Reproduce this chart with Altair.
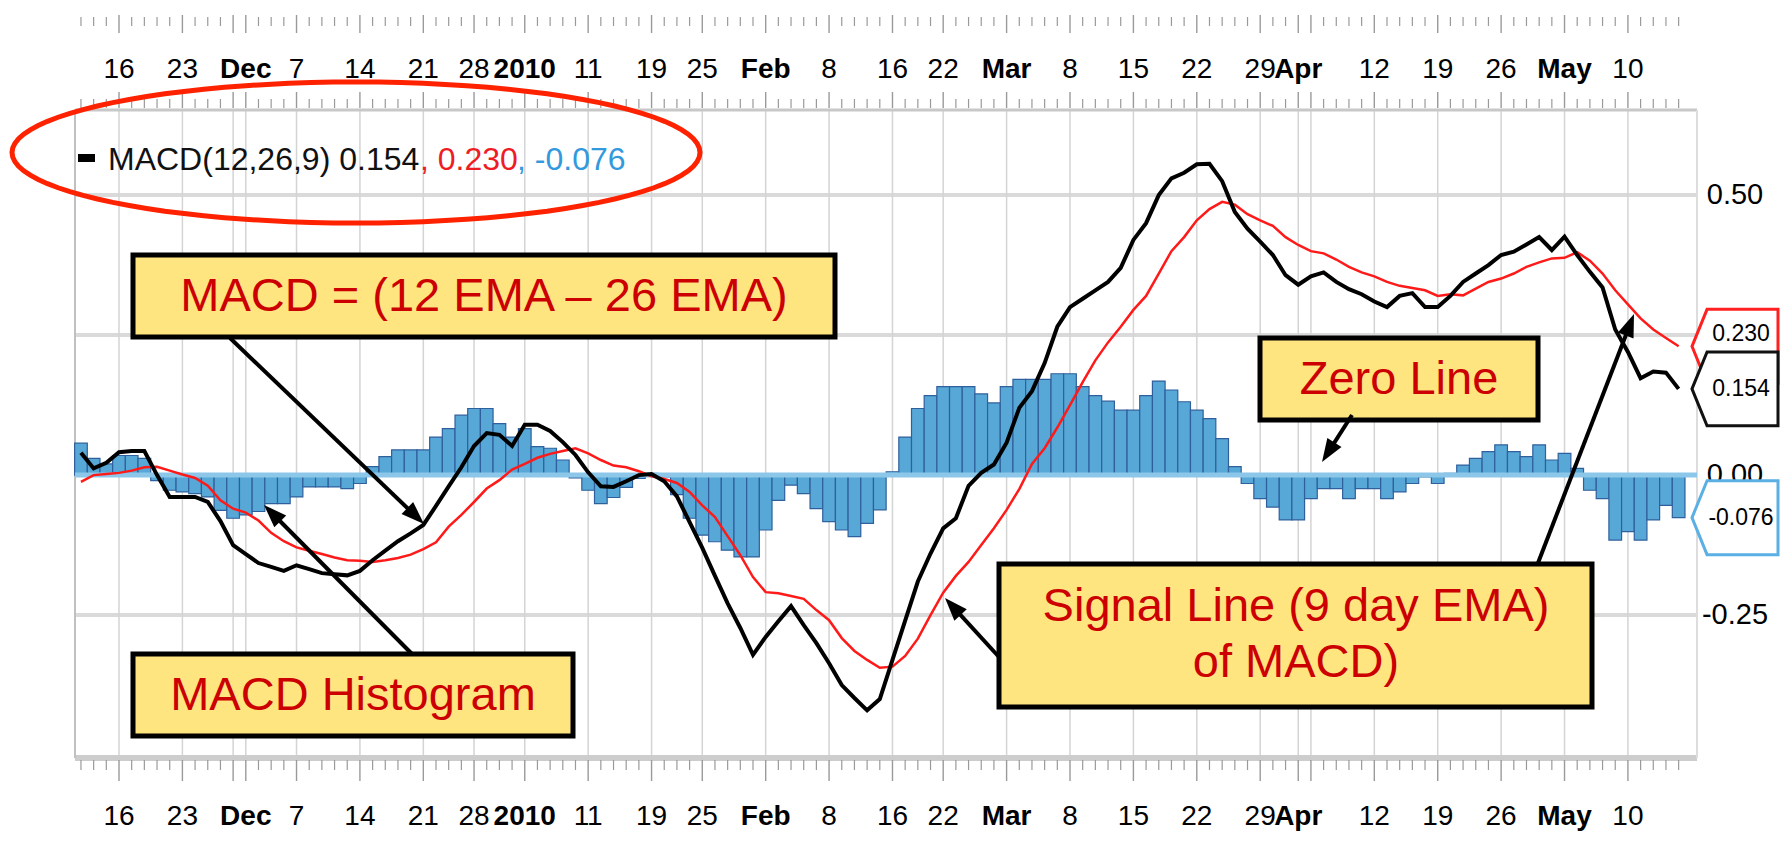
import math
import altair as alt
import pandas as pd

# ---------------- data ----------------
HOLIDAYS = ["2009-11-26", "2009-12-25", "2010-01-01", "2010-01-18", "2010-02-15", "2010-04-02"]
FIRST_DAY = "2009-11-11"
LAST_DAY = "2010-05-14"

macd = [0.040, 0.012, 0.022, 0.041, 0.043, 0.043, 0.000, -0.039, -0.039, -0.039,
        -0.048, -0.082, -0.125, -0.141, -0.157, -0.164, -0.171, -0.161, -0.168, -0.175,
        -0.177, -0.179, -0.171, -0.152, -0.135, -0.118, -0.104, -0.089, -0.055, -0.020,
        0.014, 0.052, 0.075, 0.072, 0.052, 0.090, 0.090, 0.079, 0.059, 0.036,
        0.005, -0.020, -0.021, -0.011, 0.000, 0.002, -0.011, -0.038, -0.084, -0.130,
        -0.180, -0.229, -0.273, -0.321, -0.289, -0.261, -0.234, -0.268, -0.300, -0.336,
        -0.375, -0.398, -0.420, -0.400, -0.330, -0.260, -0.190, -0.140, -0.095, -0.077,
        -0.019, 0.004, 0.019, 0.058, 0.120, 0.150, 0.200, 0.265, 0.300, 0.315,
        0.330, 0.345, 0.370, 0.420, 0.450, 0.500, 0.530, 0.540, 0.555, 0.556,
        0.525, 0.470, 0.440, 0.417, 0.393, 0.357, 0.340, 0.355, 0.362, 0.345,
        0.332, 0.323, 0.310, 0.300, 0.320, 0.325, 0.300, 0.300, 0.320, 0.345,
        0.360, 0.375, 0.393, 0.399, 0.412, 0.425, 0.402, 0.426, 0.393, 0.363,
        0.335, 0.260, 0.220, 0.173, 0.185, 0.183, 0.154]

signal = [-0.012, 0.000, 0.002, 0.004, 0.008, 0.014, 0.015, 0.008, 0.001, -0.005,
          -0.019, -0.045, -0.060, -0.067, -0.081, -0.103, -0.118, -0.129, -0.135, -0.141,
          -0.147, -0.152, -0.153, -0.155, -0.152, -0.148, -0.142, -0.132, -0.120, -0.092,
          -0.071, -0.048, -0.024, -0.009, 0.010, 0.020, 0.031, 0.038, 0.043, 0.048,
          0.039, 0.027, 0.017, 0.014, 0.007, -0.002, -0.007, -0.014, -0.030, -0.054,
          -0.075, -0.109, -0.143, -0.182, -0.209, -0.211, -0.216, -0.221, -0.241, -0.259,
          -0.291, -0.314, -0.330, -0.344, -0.342, -0.323, -0.292, -0.250, -0.210, -0.180,
          -0.155, -0.125, -0.095, -0.062, -0.025, 0.020, 0.048, 0.085, 0.125, 0.166,
          0.205, 0.237, 0.265, 0.295, 0.320, 0.360, 0.400, 0.425, 0.455, 0.475,
          0.488, 0.483, 0.466, 0.455, 0.445, 0.425, 0.411, 0.400, 0.396, 0.385,
          0.372, 0.362, 0.355, 0.345, 0.338, 0.334, 0.330, 0.320, 0.323, 0.321,
          0.333, 0.345, 0.351, 0.360, 0.372, 0.380, 0.387, 0.388, 0.398, 0.383,
          0.360, 0.330, 0.305, 0.280, 0.260, 0.245, 0.230]

hist = [0.057, 0.030, 0.020, 0.035, 0.035, 0.030, -0.010, -0.027, -0.030, -0.033,
        -0.039, -0.063, -0.077, -0.071, -0.065, -0.051, -0.051, -0.039, -0.021, -0.021,
        -0.021, -0.024, -0.015, 0.015, 0.033, 0.045, 0.045, 0.045, 0.068, 0.083,
        0.107, 0.119, 0.119, 0.092, 0.068, 0.083, 0.051, 0.048, 0.027, -0.005,
        -0.027, -0.051, -0.040, -0.022, -0.006, 0.003, -0.003, -0.035, -0.077, -0.107,
        -0.119, -0.134, -0.146, -0.146, -0.098, -0.045, -0.018, -0.033, -0.060, -0.083,
        -0.098, -0.110, -0.086, -0.062, 0.006, 0.068, 0.119, 0.142, 0.158, 0.158,
        0.158, 0.145, 0.129, 0.158, 0.171, 0.171, 0.171, 0.181, 0.181, 0.158,
        0.142, 0.132, 0.116, 0.116, 0.142, 0.168, 0.152, 0.131, 0.116, 0.101,
        0.065, 0.015, -0.015, -0.042, -0.057, -0.080, -0.080, -0.042, -0.024, -0.024,
        -0.042, -0.024, -0.024, -0.042, -0.030, -0.015, -0.003, -0.015, 0.003, 0.018,
        0.030, 0.042, 0.054, 0.042, 0.033, 0.054, 0.027, 0.039, 0.012, -0.027,
        -0.042, -0.116, -0.101, -0.116, -0.080, -0.054, -0.076]

tick_dates = ["2009-11-16", "2009-11-23", "2009-12-01", "2009-12-07", "2009-12-14",
              "2009-12-21", "2009-12-28", "2010-01-04", "2010-01-11", "2010-01-19",
              "2010-01-25", "2010-02-01", "2010-02-08", "2010-02-16", "2010-02-22",
              "2010-03-01", "2010-03-08", "2010-03-15", "2010-03-22", "2010-03-29",
              "2010-04-01", "2010-04-12", "2010-04-19", "2010-04-26", "2010-05-03",
              "2010-05-10"]
tick_labels = ["16", "23", "Dec", "7", "14", "21", "28", "2010", "11", "19", "25", "Feb",
               "8", "16", "22", "Mar", "8", "15", "22", "29", "Apr", "12", "19", "26",
               "May", "10"]
bold_labels = ["Dec", "2010", "Feb", "Mar", "Apr", "May"]
extra_grid_dates = ["2009-11-30", "2010-04-05"]
y_grid = [0.5, 0.25, -0.25]
# the 0.25 label is hidden behind the last-value boxes in the reference
y_label_values = [0.5, 0.0, -0.25]
y_label_texts = ["0.50", "0.00", "-0.25"]

# ---------------- geometry ----------------
X0, Y0 = 75, 110          # page position of the plot area's top-left corner
W, H = 1622, 648
PXD = 12.68               # pixels per trading day
PXV = 560.0               # pixels per unit of MACD
P_LEFT = -0.47
P_RIGHT = P_LEFT + W / PXD
V_TOP = 0.652
V_BOT = V_TOP - H / PXV


def dp(xpage):
    return P_LEFT + (xpage - X0) / PXD


def dv(ypage):
    return V_TOP - (ypage - Y0) / PXV


xs = alt.Scale(domain=[P_LEFT, P_RIGHT], nice=False, zero=False)
ys = alt.Scale(domain=[V_BOT, V_TOP], nice=False, zero=False)


def X(f):
    return alt.X(f"{f}:Q", scale=xs, axis=None)


def Y(f):
    return alt.Y(f"{f}:Q", scale=ys, axis=None)


AXIS_FONT = "Liberation Sans, Arial, sans-serif"
BOX_FONT = "Liberation Sans, Arial, sans-serif"

# ---------------- tables ----------------
days = [d.strftime("%Y-%m-%d") for d in pd.bdate_range(FIRST_DAY, LAST_DAY)
        if d.strftime("%Y-%m-%d") not in HOLIDAYS]
n = min(len(days), len(macd))
pos = {d: i for i, d in enumerate(days)}
df = pd.DataFrame({
    "date": days[:n], "p": list(range(n)),
    "macd": macd[:n], "signal": signal[:n], "hist": hist[:n],
})
df["p0"] = df["p"] - 0.5
df["p1"] = df["p"] + 0.5
df["zero"] = 0.0

tdf = pd.DataFrame({"p": [pos[d] for d in tick_dates], "label": tick_labels})
tdf["bold"] = tdf["label"].isin(bold_labels)
grid_df = pd.DataFrame({"p": [pos[d] for d in tick_dates + extra_grid_dates]})
major_set = set(grid_df["p"])
all_days = pd.DataFrame({"p": list(range(n))})
minor_df = all_days[~all_days["p"].isin(major_set)]
major_df = all_days[all_days["p"].isin(major_set)]
one = pd.DataFrame({"k": [0]})

layers = []

# horizontal grid
layers.append(alt.Chart(pd.DataFrame({"v": y_grid})).mark_rule(color="#dadada", strokeWidth=4)
              .encode(y=Y("v"), x=alt.value(0), x2=alt.value(W)))
# vertical grid
layers.append(alt.Chart(grid_df).mark_rule(color="#d4d4d4", strokeWidth=1.5)
              .encode(x=X("p"), y=alt.value(0), y2=alt.value(H)))
# borders
layers.append(alt.Chart(one).mark_rule(color="#c8c8c8", strokeWidth=3)
              .encode(x=alt.value(0), x2=alt.value(W), y=alt.value(0)))
layers.append(alt.Chart(one).mark_rule(color="#cdcdcd", strokeWidth=6)
              .encode(x=alt.value(0), x2=alt.value(W), y=alt.value(H)))
layers.append(alt.Chart(one).mark_rule(color="#c0c0c0", strokeWidth=2)
              .encode(x=alt.value(0), y=alt.value(0), y2=alt.value(H)))
layers.append(alt.Chart(one).mark_rule(color="#dddddd", strokeWidth=2)
              .encode(x=alt.value(W), y=alt.value(0), y2=alt.value(H)))

# histogram
layers.append(alt.Chart(df).mark_bar(color="#57a8d6", stroke="#2f5f9c", strokeWidth=1.2)
              .encode(x=X("p0"), x2=alt.X2("p1"), y=Y("hist"), y2=alt.Y2("zero")))
# zero line band
layers.append(alt.Chart(pd.DataFrame({"v": [0.0]})).mark_rule(color="#8cc7ea", strokeWidth=5)
              .encode(y=Y("v"), x=alt.value(0), x2=alt.value(W)))
# signal & macd lines
layers.append(alt.Chart(df).mark_line(color="#ff1a1a", strokeWidth=2.5)
              .encode(x=X("p"), y=Y("signal")))
layers.append(alt.Chart(df).mark_line(color="#000000", strokeWidth=4)
              .encode(x=X("p"), y=Y("macd")))


# day ticks on the top and bottom axes
def tick_rows(data, rows, width):
    out = []
    for (ya, yb) in rows:
        out.append(alt.Chart(data).mark_rule(color="#9a9a9a", strokeWidth=width)
                   .encode(x=X("p"), y=alt.value(ya - Y0), y2=alt.value(yb - Y0)))
    return out


layers += tick_rows(minor_df, [(17, 26), (99, 108), (760, 770)], 1.2)
layers += tick_rows(major_df, [(15, 33), (92, 108), (760, 781)], 1.4)

# axis labels (top and bottom)
for ypage in (70, 817):
    for is_bold in (False, True):
        sub = tdf[tdf["bold"] == is_bold]
        layers.append(alt.Chart(sub).mark_text(font=AXIS_FONT, fontSize=28,
                                               fontWeight="bold" if is_bold else "normal",
                                               color="#000000", align="center", baseline="middle")
                      .encode(x=X("p"), y=alt.value(ypage - Y0), text="label:N"))

# right value-axis labels
layers.append(alt.Chart(pd.DataFrame({"v": y_label_values, "label": y_label_texts}))
              .mark_text(font=AXIS_FONT, fontSize=29, color="#000000", align="center", baseline="middle")
              .encode(x=alt.value(1735 - X0), y=Y("v"), text="label:N"))

# last-value boxes at the right (text offset keeps it in the visible part of the box)
BOX_PATH = "M -1 0 L -0.65 -0.86 L 1 -0.86 L 1 0.86 L -0.65 0.86 Z"
last_boxes = [(signal[-1], "#ff2020", -12), (macd[-1], "#111111", 0), (hist[-1], "#5ab0e4", 0)]
for val, col, dy in last_boxes:
    bd = pd.DataFrame({"v": [val], "label": [f"{val:.3f}"]})
    layers.append(alt.Chart(bd).mark_point(shape=BOX_PATH, size=86 ** 2, filled=True, fill="white",
                                           stroke=col, strokeWidth=3, opacity=1)
                  .encode(x=alt.value(1735 - X0), y=Y("v")))
    layers.append(alt.Chart(bd).mark_text(font=AXIS_FONT, fontSize=23, color="#000000",
                                          align="center", baseline="middle", dy=dy)
                  .encode(x=alt.value(1741 - X0), y=Y("v"), text="label:N"))

# legend line
layers.append(alt.Chart(one).mark_rule(color="#000000", strokeWidth=8)
              .encode(x=alt.value(78 - X0), x2=alt.value(95 - X0), y=alt.value(158 - Y0)))
legend_parts = [(f"MACD(12,26,9) {macd[-1]:.3f}", 108, "#111111"),
                (f", {signal[-1]:.3f}", 420, "#ee1c24"),
                (f", {hist[-1]:.3f}", 517, "#3399dd")]
for txt, xpage, col in legend_parts:
    layers.append(alt.Chart(pd.DataFrame({"label": [txt]}))
                  .mark_text(font=AXIS_FONT, fontSize=32, color=col, align="left", baseline="middle")
                  .encode(x=alt.value(xpage - X0), y=alt.value(160 - Y0), text="label:N"))

# red ellipse around the legend
ell_pts = []
for k in range(96):
    t = 2 * math.pi * k / 96
    ell_pts.append(f"{math.cos(t):.4f} {0.205 * math.sin(t):.4f}")
ELLIPSE = "M " + " L ".join(ell_pts) + " Z"
layers.append(alt.Chart(pd.DataFrame({"p": [dp(356)], "v": [dv(152.5)]}))
              .mark_point(shape=ELLIPSE, size=688 ** 2, filled=False, color="#ff2200",
                          stroke="#ff2200", strokeWidth=5, opacity=1)
              .encode(x=X("p"), y=Y("v")))

# annotation boxes
boxes = [(133, 835, 255, 337), (133, 573, 654, 736), (1260, 1538, 338, 420), (999, 1592, 564, 707)]
bdf = pd.DataFrame({"p1": [dp(b[0]) for b in boxes], "p2": [dp(b[1]) for b in boxes],
                    "v1": [dv(b[2]) for b in boxes], "v2": [dv(b[3]) for b in boxes]})
layers.append(alt.Chart(bdf).mark_rect(fill="#ffe580", stroke="#000000", strokeWidth=5)
              .encode(x=X("p1"), x2=alt.X2("p2"), y=Y("v1"), y2=alt.Y2("v2")))
texts = [("MACD = (12 EMA \u2013 26 EMA)", 484, 297), ("MACD Histogram", 353, 696),
         ("Zero Line", 1399, 380), ("Signal Line (9 day EMA)", 1296, 607), ("of MACD)", 1296, 663)]
adf = pd.DataFrame({"p": [dp(t[1]) for t in texts], "v": [dv(t[2]) for t in texts],
                    "label": [t[0] for t in texts]})
layers.append(alt.Chart(adf).mark_text(font=BOX_FONT, fontSize=47, color="#cc0000",
                                       align="center", baseline="middle")
              .encode(x=X("p"), y=Y("v"), text="label:N"))

# arrows
arrows = [(230, 338, 424, 524), (412, 654, 264, 505), (1352, 415, 1322, 462),
          (999, 657, 945, 598), (1538, 563, 1634, 314)]
rows = []
for (xa, ya, xb, yb) in arrows:
    L = math.hypot(xb - xa, yb - ya)
    ux, uy = (xb - xa) / L, (yb - ya) / L
    xe, ye = xb - ux * 12, yb - uy * 12
    ang = math.degrees(math.atan2(ux, -uy)) % 360
    rows.append({"p1": dp(xa), "v1": dv(ya), "p2": dp(xe), "v2": dv(ye),
                 "hp": dp(xb), "hv": dv(yb), "ang": ang})
ardf = pd.DataFrame(rows)
layers.append(alt.Chart(ardf).mark_rule(color="#000000", strokeWidth=4)
              .encode(x=X("p1"), y=Y("v1"), x2=alt.X2("p2"), y2=alt.Y2("v2")))
HEAD = "M 0 0 L 0.8 2.2 L -0.8 2.2 Z"
layers.append(alt.Chart(ardf).mark_point(shape=HEAD, size=440, filled=True, color="#000000", opacity=1)
              .encode(x=X("hp"), y=Y("hv"), angle=alt.Angle("ang:Q", scale=None)))

chart = alt.layer(*layers).properties(
    width=W, height=H,
    padding={"left": X0 - 8, "top": Y0 - 8, "right": 1773 - (X0 - 8) - W, "bottom": 85},
    autosize=alt.AutoSizeParams(type="none"),
    background="white",
).configure_view(strokeWidth=0)

chart.save("out.html", embed_options={"renderer": "svg", "actions": False})
